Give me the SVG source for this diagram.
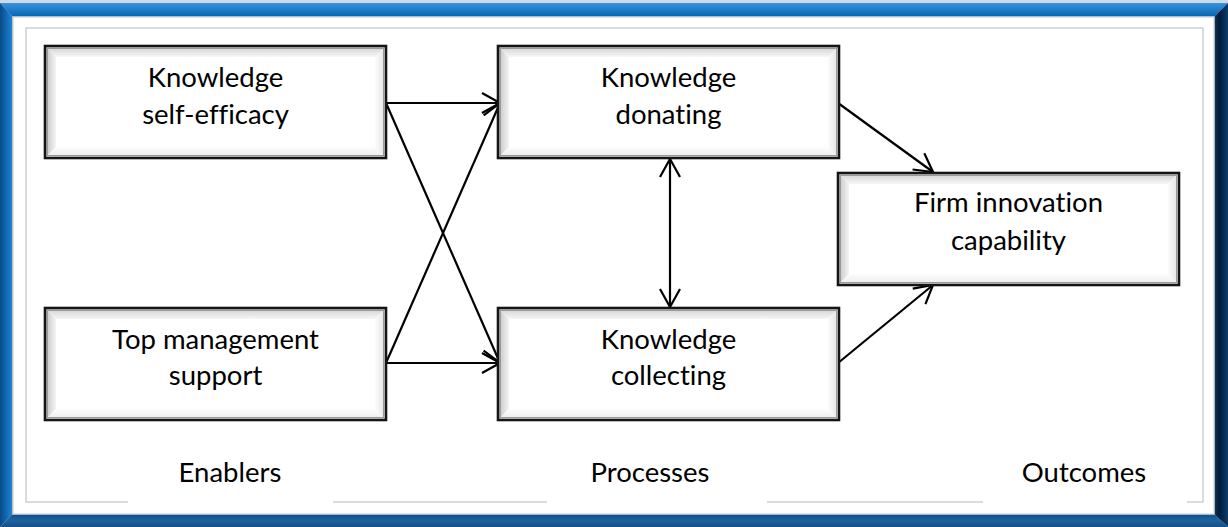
<svg xmlns="http://www.w3.org/2000/svg" width="1228" height="527" viewBox="0 0 1228 527">
  <defs>
    <style>
      .label { font-family: Lato, "Open Sans", "Liberation Sans", sans-serif; font-size: 27.5px; fill: #000; text-anchor: middle; font-variant-ligatures: none; font-feature-settings: "liga" 0, "clig" 0, "dlig" 0; }
      .edge { stroke: #000; stroke-width: 2.2; fill: none; }
      .frameLine { stroke: #cfcfcf; stroke-width: 1.5; fill: none; }
    </style>
    <!-- frame gradients -->
    <linearGradient id="gTop" x1="0" y1="0" x2="0" y2="1">
      <stop offset="0" stop-color="#3a93dc"/>
      <stop offset="1" stop-color="#0065b5"/>
    </linearGradient>
    <linearGradient id="gLeft" x1="0" y1="0" x2="1" y2="0">
      <stop offset="0" stop-color="#0a4a86"/>
      <stop offset="0.6" stop-color="#1370bd"/>
      <stop offset="1" stop-color="#2a86d0"/>
    </linearGradient>
    <linearGradient id="gRight" x1="0" y1="0" x2="1" y2="0">
      <stop offset="0" stop-color="#0d3c6a"/>
      <stop offset="0.35" stop-color="#001a33"/>
      <stop offset="1" stop-color="#0b3d6e"/>
    </linearGradient>
    <linearGradient id="gBottom" x1="0" y1="0" x2="0" y2="1">
      <stop offset="0" stop-color="#0f4d88"/>
      <stop offset="0.5" stop-color="#1d639f"/>
      <stop offset="1" stop-color="#164f85"/>
    </linearGradient>
    <!-- bevel gradients for the boxes -->
    <linearGradient id="bvTop" x1="0" y1="0" x2="0" y2="1">
      <stop offset="0" stop-color="#cfcfcf"/>
      <stop offset="1" stop-color="#f6f6f6"/>
    </linearGradient>
    <linearGradient id="bvLeft" x1="0" y1="0" x2="1" y2="0">
      <stop offset="0" stop-color="#c2c2c2"/>
      <stop offset="1" stop-color="#f4f4f4"/>
    </linearGradient>
    <linearGradient id="bvRight" x1="0" y1="0" x2="1" y2="0">
      <stop offset="0" stop-color="#fbfbfb"/>
      <stop offset="1" stop-color="#e2e2e2"/>
    </linearGradient>
    <linearGradient id="bvBottom" x1="0" y1="0" x2="0" y2="1">
      <stop offset="0" stop-color="#fdfdfd"/>
      <stop offset="1" stop-color="#eaeaea"/>
    </linearGradient>
    <!-- bevelled box, 341 x 112 -->
    <g id="bevelBox">
      <rect x="0" y="0" width="341" height="112" fill="#fff"/>
      <polygon points="0,0 341,0 330,11 11,11" fill="url(#bvTop)"/>
      <polygon points="0,0 11,11 11,101 0,112" fill="url(#bvLeft)"/>
      <polygon points="341,0 341,112 330,101 330,11" fill="url(#bvRight)"/>
      <polygon points="0,112 341,112 330,101 11,101" fill="url(#bvBottom)"/>
      <rect x="2.5" y="2.5" width="336" height="107" fill="none" stroke="#9a9a9a" stroke-width="1"/>
      <rect x="0" y="0" width="341" height="112" fill="none" stroke="#151515" stroke-width="2.6"/>
    </g>
    <marker id="arrow" viewBox="-20 -12 22 24" refX="0" refY="0" markerWidth="22" markerHeight="24" markerUnits="userSpaceOnUse" orient="auto-start-reverse">
      <path d="M-18,-10 L0,0 L-18,10" fill="none" stroke="#000" stroke-width="2.2"/>
    </marker>
  </defs>

  <!-- outer blue frame -->
  <g id="frame">
    <rect x="0" y="0" width="1228" height="527" fill="#cdd9e5"/>
    <polygon points="0,3 1228,3 1214,17 13,17" fill="url(#gTop)"/>
    <polygon points="0,3 13,17 13,514 0,527" fill="url(#gLeft)"/>
    <polygon points="1228,3 1228,527 1214,514 1214,17" fill="url(#gRight)"/>
    <polygon points="0,527 1228,527 1214,514 13,514" fill="url(#gBottom)"/>
    <rect x="13" y="17" width="1201" height="497" fill="#fff" stroke="#dcdcdc" stroke-width="1.5"/>
    <path class="frameLine" d="M128,502 L26,502 L26,28 L1203,28 L1203,502 L1187,502 M333,502 L547,502 M767,502 L983,502"/>
  </g>

  <!-- connectors -->
  <g id="connectors">
    <line class="edge" x1="386" y1="103" x2="500" y2="103" marker-end="url(#arrow)"/>
    <line class="edge" x1="386" y1="103" x2="500" y2="363" marker-end="url(#arrow)"/>
    <line class="edge" x1="386" y1="363" x2="500" y2="103" marker-end="url(#arrow)"/>
    <line class="edge" x1="386" y1="363" x2="500" y2="363" marker-end="url(#arrow)"/>
    <line class="edge" x1="670" y1="159" x2="670" y2="307" marker-start="url(#arrow)" marker-end="url(#arrow)"/>
    <line class="edge" x1="838" y1="103" x2="933" y2="172" marker-end="url(#arrow)"/>
    <line class="edge" x1="838" y1="363" x2="933" y2="285" marker-end="url(#arrow)"/>
  </g>

  <!-- enablers -->
  <g id="knowledge-self-efficacy">
    <use href="#bevelBox" x="45" y="46"/>
    <text class="label" x="215.5" y="87">Knowledge</text>
    <text class="label" x="215.5" y="124">self-efficacy</text>
  </g>
  <g id="top-management-support">
    <use href="#bevelBox" x="45" y="308"/>
    <text class="label" x="215.5" y="349">Top management</text>
    <text class="label" x="215.5" y="385">support</text>
  </g>

  <!-- processes -->
  <g id="knowledge-donating">
    <use href="#bevelBox" x="498" y="46"/>
    <text class="label" x="668.5" y="87">Knowledge</text>
    <text class="label" x="668.5" y="124">donating</text>
  </g>
  <g id="knowledge-collecting">
    <use href="#bevelBox" x="498" y="308"/>
    <text class="label" x="668.5" y="349">Knowledge</text>
    <text class="label" x="668.5" y="385">collecting</text>
  </g>

  <!-- outcome -->
  <g id="firm-innovation-capability">
    <use href="#bevelBox" x="838" y="173"/>
    <text class="label" x="1008.5" y="212">Firm innovation</text>
    <text class="label" x="1008.5" y="250">capability</text>
  </g>

  <!-- column captions -->
  <g id="captions">
    <text class="label" x="230" y="482">Enablers</text>
    <text class="label" x="650" y="482">Processes</text>
    <text class="label" x="1084" y="482">Outcomes</text>
  </g>
</svg>
